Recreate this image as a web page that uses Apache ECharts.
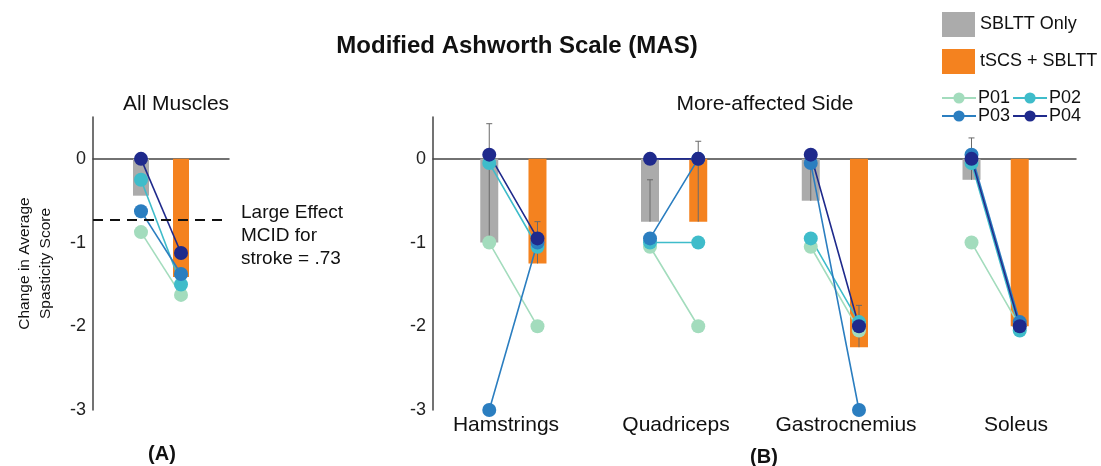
<!DOCTYPE html>
<html>
<head>
<meta charset="utf-8">
<title>Modified Ashworth Scale (MAS)</title>
<script src="https://cdn.jsdelivr.net/npm/echarts@6/dist/echarts.min.js"></script>
<style>
  html, body { margin: 0; padding: 0; background: #fff; }
  #chart { width: 1101px; height: 466px; }
</style>
</head>
<body>
<div id="chart"></div>
<script>
// categories
const muscles = ['Hamstrings', 'Quadriceps', 'Gastrocnemius', 'Soleus']
const yTicks = [-3, -2, -1, 0]

// (A) all muscles, group means
const allSbltt = -0.44
const allTscs = -1.41
const mcid = -0.73

// (A) participants [SBLTT only, tSCS + SBLTT]
const allP01 = [-0.875, -1.625]
const allP02 = [-0.25, -1.5]
const allP03 = [-0.625, -1.375]
const allP04 = [0, -1.125]

// (B) more-affected side, group means and upper error bar ends
const sblttMean = [-1, -0.75, -0.5, -0.25]
const tscsMean = [-1.25, -0.75, -2.25, -2]
const sblttErrTop = [0.42, -0.25, 0.08, 0.25]
const tscsErrTop = [-0.75, 0.21, -1.75, null]

// (B) participants per muscle
const p01Sbltt = [-1, -1.05, -1.05, -1]
const p01Tscs = [-2, -2, -2.05, -2]
const p02Sbltt = [-0.05, -1, -0.95, -0.05]
const p02Tscs = [-1.05, -1, -1.95, -2.05]
const p03Sbltt = [-3, -0.95, -0.05, 0.05]
const p03Tscs = [-1, 0, -3, -1.95]
const p04Sbltt = [0.05, 0, 0.05, 0]
const p04Tscs = [-0.95, 0, -2, -2]

const FONT = '"Liberation Sans", Arial, Helvetica, sans-serif'
const GRAY = '#ababab'
const ORANGE = '#f4821f'
const pColors = { P01: '#a3dcbd', P02: '#3fbcca', P03: '#2b7ec0', P04: '#1f2a8c' }
const OFF = 0.15

const chart = echarts.init(document.getElementById('chart'))

function pairLine(pre, post) {
  const out = []
  pre.forEach((v, i) => {
    out.push([i - OFF, v], [i + OFF, post[i]], [i + 0.5, null])
  })
  return out
}

function renderErr(params, api) {
  const p0 = api.coord([api.value(0), api.value(1)])
  const p1 = api.coord([api.value(0), api.value(2)])
  const st = { stroke: '#6a6a6a', lineWidth: 1 }
  return {
    type: 'group',
    children: [
      { type: 'line', shape: { x1: p0[0], y1: p0[1], x2: p1[0], y2: p1[1] }, style: st },
      { type: 'line', shape: { x1: p1[0] - 3, y1: p1[1], x2: p1[0] + 3, y2: p1[1] }, style: st },
    ],
  }
}

const errData = []
muscles.forEach((m, i) => {
  if (sblttErrTop[i] != null) errData.push([i - OFF, sblttMean[i], sblttErrTop[i]])
  if (tscsErrTop[i] != null) errData.push([i + OFF, tscsMean[i], tscsErrTop[i]])
})

function lineSeries(name, data, axis) {
  return {
    name: name,
    type: 'line',
    xAxisIndex: axis,
    yAxisIndex: axis,
    data: data,
    connectNulls: false,
    symbol: 'circle',
    symbolSize: 14,
    lineStyle: { width: 1.6, color: pColors[name] },
    itemStyle: { color: pColors[name] },
    z: 4,
  }
}

const valueX = (min, max) => ({
  type: 'value',
  min: min,
  max: max,
  axisLine: { show: true, onZero: true, lineStyle: { color: '#444', width: 1.5 } },
  axisTick: { show: false },
  axisLabel: { show: false },
  splitLine: { show: false },
})

const valueY = {
  type: 'value',
  min: -3,
  max: 0.5,
  interval: 1,
  axisLine: { show: true, onZero: false, lineStyle: { color: '#444', width: 1.5 } },
  axisTick: { show: false },
  splitLine: { show: false },
  axisLabel: {
    color: '#222',
    fontSize: 18,
    fontFamily: FONT,
    margin: 7,
    formatter: v => (yTicks.includes(v) ? String(v) : ''),
  },
}

const txt = (size, bold) => ({
  fontSize: size,
  fontWeight: bold ? 'bold' : 'normal',
  color: '#111',
  fontFamily: FONT,
})

chart.setOption({
  backgroundColor: '#fff',
  textStyle: { fontFamily: FONT },
  animation: false,
  title: [
    { text: 'Modified Ashworth Scale (MAS)', left: 512, top: 29, textAlign: 'center', textStyle: txt(24, true) },
    { text: 'All Muscles', left: 171, top: 89, textAlign: 'center', textStyle: txt(21) },
    { text: 'More-affected Side', left: 760, top: 89, textAlign: 'center', textStyle: txt(21) },
    { text: '(A)', left: 157, top: 439, textAlign: 'center', textStyle: txt(20, true) },
    { text: '(B)', left: 759, top: 442, textAlign: 'center', textStyle: txt(20, true) },
  ],
  legend: [
    {
      data: ['SBLTT Only', 'tSCS + SBLTT'],
      orient: 'vertical',
      left: 937,
      top: 7,
      itemWidth: 33,
      itemHeight: 25,
      itemGap: 12,
      icon: 'rect',
      textStyle: txt(18),
    },
    {
      data: ['P01', 'P02'],
      left: 936,
      top: 84,
      itemWidth: 34,
      itemHeight: 14,
      itemGap: 2,
      textStyle: Object.assign(txt(18), { padding: [0, 0, 0, -3] }),
    },
    {
      data: ['P03', 'P04'],
      left: 936,
      top: 102,
      itemWidth: 34,
      itemHeight: 14,
      itemGap: 2,
      textStyle: Object.assign(txt(18), { padding: [0, 0, 0, -3] }),
    },
  ],
  grid: [
    { left: 93, top: 117, width: 136, height: 293 },
    { left: 433, top: 117, width: 643, height: 293 },
    { left: 421, top: 117, width: 680, height: 293 },
  ],
  xAxis: [
    Object.assign({ gridIndex: 0 }, valueX(-0.2, 3.2)),
    Object.assign({ gridIndex: 1 }, valueX(-0.5, 3.5)),
    {
      gridIndex: 2,
      type: 'category',
      data: muscles,
      axisLine: { show: false },
      axisTick: { show: false },
      axisLabel: { interval: 0, color: '#111', fontSize: 21, fontFamily: FONT, margin: 5 },
    },
  ],
  yAxis: [
    Object.assign({ gridIndex: 0 }, valueY, {
      name: 'Change in Average\nSpasticity Score',
      nameLocation: 'middle',
      nameRotate: 90,
      nameGap: 37,
      nameTextStyle: { fontSize: 15.5, color: '#111', fontFamily: FONT, lineHeight: 21 },
    }),
    Object.assign({ gridIndex: 1 }, valueY),
    { gridIndex: 2, type: 'value', min: -3, max: 0.5, show: false },
  ],
  series: [
    {
      name: 'SBLTT Only',
      type: 'bar',
      xAxisIndex: 0,
      yAxisIndex: 0,
      barWidth: 16,
      barGap: '-100%',
      itemStyle: { color: GRAY },
      data: [[1, allSbltt]],
      markLine: {
        silent: true,
        symbol: 'none',
        lineStyle: { type: [10, 7], color: '#111', width: 2 },
        data: [{ yAxis: mcid }],
        label: {
          position: 'end',
          distance: 12,
          formatter: '{s| }\n{t|Large Effect}\n{t|MCID for}\n{t|stroke = .73}',
          align: 'left',
          rich: {
            s: { lineHeight: 32, fontSize: 10 },
            t: { fontSize: 19, lineHeight: 23, color: '#111', fontFamily: FONT },
          },
        },
      },
    },
    {
      name: 'tSCS + SBLTT',
      type: 'bar',
      xAxisIndex: 0,
      yAxisIndex: 0,
      barWidth: 16,
      barGap: '-100%',
      itemStyle: { color: ORANGE },
      data: [[2, allTscs]],
    },
    {
      name: 'SBLTT Only',
      type: 'bar',
      xAxisIndex: 1,
      yAxisIndex: 1,
      barWidth: 18,
      barGap: '-100%',
      itemStyle: { color: GRAY },
      data: sblttMean.map((v, i) => [i - OFF, v]),
    },
    {
      name: 'tSCS + SBLTT',
      type: 'bar',
      xAxisIndex: 1,
      yAxisIndex: 1,
      barWidth: 18,
      barGap: '-100%',
      itemStyle: { color: ORANGE },
      data: tscsMean.map((v, i) => [i + OFF, v]),
    },
    {
      type: 'custom',
      xAxisIndex: 1,
      yAxisIndex: 1,
      renderItem: renderErr,
      data: errData,
      z: 3,
      silent: true,
    },
    lineSeries('P01', [[1, allP01[0]], [2, allP01[1]]], 0),
    lineSeries('P02', [[1, allP02[0]], [2, allP02[1]]], 0),
    lineSeries('P03', [[1, allP03[0]], [2, allP03[1]]], 0),
    lineSeries('P04', [[1, allP04[0]], [2, allP04[1]]], 0),
    lineSeries('P01', pairLine(p01Sbltt, p01Tscs), 1),
    lineSeries('P02', pairLine(p02Sbltt, p02Tscs), 1),
    lineSeries('P03', pairLine(p03Sbltt, p03Tscs), 1),
    lineSeries('P04', pairLine(p04Sbltt, p04Tscs), 1),
  ],
})

window.addEventListener('resize', () => chart.resize())
</script>
</body>
</html>
